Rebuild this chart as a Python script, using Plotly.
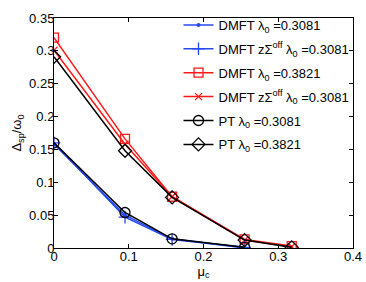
import plotly.graph_objects as go

mu_c5 = [0.0, 0.095, 0.158, 0.255, 0.318]
mu_c4 = [0.0, 0.095, 0.158, 0.255]

dmft_3081 = [0.158, 0.050, 0.014, 0.000]
dmft_z_3081 = [0.160, 0.047, 0.013, 0.001]
dmft_3821 = [0.320, 0.166, 0.078, 0.013, 0.003]
dmft_z_3081b = [0.301, 0.158, 0.078, 0.012, 0.002]
pt_3081 = [0.160, 0.054, 0.014, 0.001]
pt_3821 = [0.291, 0.148, 0.077, 0.012, 0.001]

names = [
    "DMFT λ<sub>0</sub> =0.3081",
    "DMFT zΣ<sup>off</sup> λ<sub>0</sub> =0.3081",
    "DMFT λ<sub>0</sub> =0.3821",
    "DMFT zΣ<sup>off</sup> λ<sub>0</sub> =0.3081",
    "PT λ<sub>0</sub> =0.3081",
    "PT λ<sub>0</sub> =0.3821",
]

blue = "#2649f0"
red = "#ff1a1a"
black = "#000000"

fig = go.Figure()
specs = [
    (mu_c4, dmft_3081, blue, dict(symbol="circle", size=4, color=blue)),
    (mu_c4, dmft_z_3081, blue, dict(symbol="cross-thin", size=9, color=blue, line=dict(color=blue, width=1.3))),
    (mu_c5, dmft_3821, red, dict(symbol="square-open", size=9, color=red, line=dict(width=1.3))),
    (mu_c5, dmft_z_3081b, red, dict(symbol="x-thin", size=7, color=red, line=dict(color=red, width=1.3))),
    (mu_c4, pt_3081, black, dict(symbol="circle-open", size=10, color=black, line=dict(width=1.3))),
    (mu_c5, pt_3821, black, dict(symbol="diamond-open", size=10, color=black, line=dict(width=1.3))),
]
for i, ((x, y, c, m), n) in enumerate(zip(specs, names)):
    fig.add_trace(go.Scatter(x=x, y=y, mode="lines+markers", name=n, legendgroup=f"g{i}",
                             line=dict(color=c, width=1.5), marker=m))

axis_common = dict(showline=True, linecolor="black", linewidth=1, mirror="ticks",
                   ticks="inside", ticklen=4, tickcolor="black", showgrid=False,
                   zeroline=False, automargin=False, ticklabelstandoff=-4,
                   tickfont=dict(size=13, color="black"))
fig.update_xaxes(range=[0, 0.4], tickvals=[0, 0.1, 0.2, 0.3, 0.4],
                 ticktext=["0", "0.1", "0.2", "0.3", "0.4"],
                 title=dict(text="μ<sub>c</sub>", font=dict(size=13, color="black"), standoff=0),
                 **axis_common)
fig.update_yaxes(range=[0, 0.35], tickvals=[0, 0.05, 0.1, 0.15, 0.2, 0.25, 0.3, 0.35],
                 ticktext=["0", "0.05", "0.1", "0.15", "0.2", "0.25", "0.3", "0.35"],
                 title=dict(text="Δ<sub>sp</sub>/ω<sub>0</sub>", font=dict(size=13, color="black"), standoff=4),
                 **axis_common)

fig.update_layout(
    width=366, height=282,
    margin=dict(l=54, r=13, t=10, b=34),
    paper_bgcolor="white", plot_bgcolor="white",
    font=dict(family="Liberation Sans, Arial, sans-serif", size=13, color="black"),
    legend=dict(x=1.005, y=1.035, xanchor="right", yanchor="top", bgcolor="rgba(255,255,255,0)",
                borderwidth=0, font=dict(size=13), itemwidth=30, maxheight=1.0,
                tracegroupgap=4),
)
fig.write_html("out.html", config={"displayModeBar": False},
               post_script="document.body.style.margin='0';document.body.style.overflow='hidden';")
